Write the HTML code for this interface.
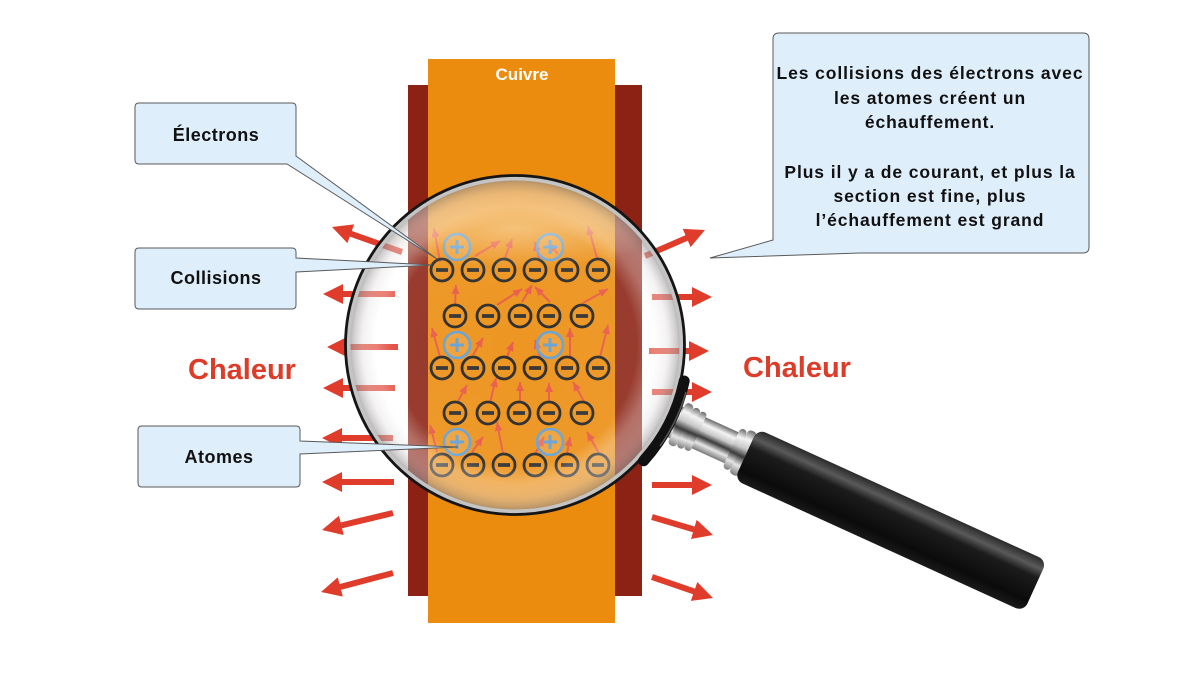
<!DOCTYPE html>
<html><head><meta charset="utf-8"><style>
html,body{margin:0;padding:0;background:#fff;}
svg{display:block;}
text{font-family:"Liberation Sans",Arial,sans-serif;}
</style></head><body>
<svg width="1200" height="675" viewBox="0 0 1200 675" xmlns="http://www.w3.org/2000/svg">
<defs>
  <marker id="bh" markerWidth="20" markerHeight="20" viewBox="0 -10 20 20" refX="10" refY="0" orient="auto" markerUnits="userSpaceOnUse">
    <path d="M0,-10 L20,0 L0,10z" fill="#e03c2c"/>
  </marker>
  <marker id="sh" markerWidth="9" markerHeight="8" viewBox="0 -4 9 8" refX="9" refY="0" orient="auto" markerUnits="userSpaceOnUse">
    <path d="M0,-4 L9,0 L0,4z" fill="#e8503c"/>
  </marker>
  <radialGradient id="lensG" cx="515" cy="345" r="169" gradientUnits="userSpaceOnUse">
    <stop offset="0" stop-color="#fff0d8" stop-opacity="0.1"/>
    <stop offset="0.72" stop-color="#ffffff" stop-opacity="0.12"/>
    <stop offset="0.82" stop-color="#ffffff" stop-opacity="0.35"/>
    <stop offset="0.9" stop-color="#e6e2e2" stop-opacity="0.45"/>
    <stop offset="0.96" stop-color="#aaa6a6" stop-opacity="0.6"/>
    <stop offset="1" stop-color="#6e6c6c" stop-opacity="0.8"/>
  </radialGradient>
  <radialGradient id="hiG" cx="0.5" cy="0.5" r="0.5">
    <stop offset="0" stop-color="#fff3dc" stop-opacity="0.45"/>
    <stop offset="1" stop-color="#fff3dc" stop-opacity="0"/>
  </radialGradient>
  <clipPath id="lensClip"><circle cx="515" cy="345" r="168"/></clipPath>
  <linearGradient id="chromeG" x1="0" y1="0" x2="0" y2="1">
    <stop offset="0" stop-color="#6a6a6a"/>
    <stop offset="0.2" stop-color="#f4f4f4"/>
    <stop offset="0.4" stop-color="#c8c8c8"/>
    <stop offset="0.58" stop-color="#3a3a3a"/>
    <stop offset="0.78" stop-color="#e6e6e6"/>
    <stop offset="1" stop-color="#7a7a7a"/>
  </linearGradient>
  <linearGradient id="blackG" x1="0" y1="0" x2="0" y2="1">
    <stop offset="0" stop-color="#2a2a2a"/>
    <stop offset="0.18" stop-color="#5a5a5a"/>
    <stop offset="0.35" stop-color="#1c1c1c"/>
    <stop offset="0.8" stop-color="#0b0b0b"/>
    <stop offset="1" stop-color="#1a1a1a"/>
  </linearGradient>
</defs>

<!-- copper -->
<rect x="408" y="85" width="234" height="511" fill="#8b2213"/>
<rect x="428" y="59" width="187" height="564" fill="#eb8c0e"/>
<text x="522" y="80" text-anchor="middle" font-size="17" font-weight="bold" fill="#fff">Cuivre</text>

<!-- big arrows -->
<g stroke="#e03c2c" stroke-width="6" fill="none" marker-end="url(#bh)">
  <line x1="402" y1="252" x2="341.4" y2="230.4"/>
  <line x1="395" y1="294" x2="333" y2="294"/>
  <line x1="398" y1="347" x2="337" y2="347"/>
  <line x1="395" y1="388" x2="333" y2="388"/>
  <line x1="393" y1="438" x2="332" y2="438"/>
  <line x1="394" y1="482" x2="332" y2="482"/>
  <line x1="393" y1="513" x2="331.7" y2="527.7"/>
  <line x1="393" y1="573" x2="330.7" y2="589.5"/>
  <line x1="645" y1="256" x2="695.8" y2="234"/>
  <line x1="652" y1="297" x2="702" y2="297"/>
  <line x1="649" y1="351" x2="699" y2="351"/>
  <line x1="652" y1="392" x2="702" y2="392"/>
  <line x1="652" y1="485" x2="702" y2="485"/>
  <line x1="652" y1="517" x2="703.4" y2="532.2"/>
  <line x1="652" y1="577" x2="703.5" y2="594.7"/>
</g>

<text x="188" y="379" font-size="29" font-weight="bold" fill="#dc3c28">Chaleur</text>
<text x="743" y="377" font-size="29" font-weight="bold" fill="#dc3c28">Chaleur</text>

<!-- small arrows -->
<g stroke="#e8503c" stroke-width="2" fill="none" marker-end="url(#sh)">
  <line x1="440" y1="262" x2="434" y2="228"/>
  <line x1="475" y1="256" x2="500" y2="241"/>
  <line x1="505" y1="258" x2="512" y2="239"/>
  <line x1="539" y1="259" x2="535" y2="242"/>
  <line x1="558" y1="254" x2="549" y2="243"/>
  <line x1="597" y1="258" x2="588" y2="226"/>
  <line x1="455" y1="305" x2="456" y2="285"/>
  <line x1="497" y1="305" x2="522" y2="289"/>
  <line x1="522" y1="302" x2="532" y2="285"/>
  <line x1="550" y1="302" x2="535" y2="287"/>
  <line x1="583" y1="303" x2="608" y2="289"/>
  <line x1="440" y1="357" x2="432" y2="328"/>
  <line x1="473" y1="355" x2="483" y2="338"/>
  <line x1="507" y1="357" x2="513" y2="342"/>
  <line x1="540" y1="357" x2="535" y2="340"/>
  <line x1="570" y1="357" x2="570" y2="328"/>
  <line x1="600" y1="357" x2="608" y2="325"/>
  <line x1="457" y1="403" x2="467" y2="385"/>
  <line x1="490" y1="403" x2="496" y2="378"/>
  <line x1="520" y1="403" x2="520" y2="382"/>
  <line x1="549" y1="403" x2="549" y2="383"/>
  <line x1="585" y1="403" x2="573" y2="382"/>
  <line x1="437" y1="452" x2="430" y2="425"/>
  <line x1="472" y1="452" x2="483" y2="437"/>
  <line x1="503" y1="454" x2="497" y2="422"/>
  <line x1="535" y1="454" x2="544" y2="437"/>
  <line x1="567" y1="454" x2="570" y2="437"/>
  <line x1="600" y1="455" x2="587" y2="432"/>
</g>

<!-- atoms -->
<g stroke="#5a9bd4" stroke-width="2.6" fill="rgba(255,255,255,0.12)">
  <circle cx="457" cy="247" r="13"/><circle cx="550" cy="247" r="13"/>
  <circle cx="457" cy="345" r="13"/><circle cx="550" cy="345" r="13"/>
  <circle cx="457" cy="442" r="13"/><circle cx="550" cy="442" r="13"/>
</g>
<g stroke="#5a9bd4" stroke-width="3">
  <path d="M450,247h14M457,240v14M543,247h14M550,240v14M450,345h14M457,338v14M543,345h14M550,338v14M450,442h14M457,435v14M543,442h14M550,435v14"/>
</g>

<!-- electrons -->
<g stroke="#1a1a1a" stroke-width="2.8" fill="none">
  <circle cx="442" cy="270" r="11"/><circle cx="473" cy="270" r="11"/><circle cx="504" cy="270" r="11"/><circle cx="535" cy="270" r="11"/><circle cx="567" cy="270" r="11"/><circle cx="598" cy="270" r="11"/>
  <circle cx="455" cy="316" r="11"/><circle cx="488" cy="316" r="11"/><circle cx="520" cy="316" r="11"/><circle cx="549" cy="316" r="11"/><circle cx="582" cy="316" r="11"/>
  <circle cx="442" cy="368" r="11"/><circle cx="473" cy="368" r="11"/><circle cx="504" cy="368" r="11"/><circle cx="535" cy="368" r="11"/><circle cx="567" cy="368" r="11"/><circle cx="598" cy="368" r="11"/>
  <circle cx="455" cy="413" r="11"/><circle cx="488" cy="413" r="11"/><circle cx="519" cy="413" r="11"/><circle cx="549" cy="413" r="11"/><circle cx="582" cy="413" r="11"/>
  <circle cx="442" cy="465" r="11"/><circle cx="473" cy="465" r="11"/><circle cx="504" cy="465" r="11"/><circle cx="535" cy="465" r="11"/><circle cx="567" cy="465" r="11"/><circle cx="598" cy="465" r="11"/>
</g>
<g stroke="#222" stroke-width="3.8">
  <path d="M436,270h12M467,270h12M498,270h12M529,270h12M561,270h12M592,270h12"/>
  <path d="M449,316h12M482,316h12M514,316h12M543,316h12M576,316h12"/>
  <path d="M436,368h12M467,368h12M498,368h12M529,368h12M561,368h12M592,368h12"/>
  <path d="M449,413h12M482,413h12M513,413h12M543,413h12M576,413h12"/>
  <path d="M436,465h12M467,465h12M498,465h12M529,465h12M561,465h12M592,465h12"/>
</g>

<!-- lens glass -->
<circle cx="515" cy="345" r="169" fill="url(#lensG)"/>
<g clip-path="url(#lensClip)">
  <ellipse cx="515" cy="228" rx="150" ry="40" fill="url(#hiG)"/>
</g>
<circle cx="515" cy="345" r="166.5" fill="none" stroke="#c4c4c4" stroke-width="4"/>
<circle cx="515" cy="345" r="169.5" fill="none" stroke="#151515" stroke-width="2.8"/>

<!-- handle -->
<g transform="translate(675,422) rotate(24.5)">
  <rect x="0" y="-17" width="82" height="34" fill="url(#chromeG)"/>
  <rect x="2" y="-23" width="9" height="46" rx="4" fill="url(#chromeG)"/>
  <rect x="11" y="-22" width="8" height="44" rx="4" fill="url(#chromeG)"/>
  <rect x="19" y="-21" width="7" height="42" rx="3" fill="url(#chromeG)"/>
  <rect x="62" y="-22" width="8" height="44" rx="4" fill="url(#chromeG)"/>
  <rect x="70" y="-24" width="10" height="48" rx="4" fill="url(#chromeG)"/>
  <rect x="78" y="-28" width="318" height="56" rx="9" fill="url(#blackG)"/>
</g>
<path d="M684.2,381 A173,173 0 0 1 643.6,460.8" fill="none" stroke="#111" stroke-width="11" stroke-linecap="round"/>
<path d="M686,392 A176,176 0 0 1 660,446" fill="none" stroke="#555" stroke-width="1.5"/>

<!-- callouts -->
<g fill="#dfeefb" stroke="#5a5a5a" stroke-width="1">
  <path d="M139,103 H292 Q296,103 296,107 V156 L437,259 L287,164 H139 Q135,164 135,160 V107 Q135,103 139,103Z"/>
  <path d="M139,248 H292 Q296,248 296,252 V258 L432,265 L296,272 V305 Q296,309 292,309 H139 Q135,309 135,305 V252 Q135,248 139,248Z"/>
  <path d="M142,426 H296 Q300,426 300,430 V441 L458,447 L300,454 V483 Q300,487 296,487 H142 Q138,487 138,483 V430 Q138,426 142,426Z"/>
  <path d="M779,33 H1083 Q1089,33 1089,39 V247 Q1089,253 1083,253 H860 L710,258 L773,240 V39 Q773,33 779,33Z"/>
</g>
<g font-size="18" font-weight="bold" fill="#111" text-anchor="middle" letter-spacing="0.5">
  <text x="216" y="141">Électrons</text>
  <text x="216" y="284">Collisions</text>
  <text x="219" y="463">Atomes</text>
</g>
<g font-size="17.5" font-weight="bold" fill="#111" text-anchor="middle" letter-spacing="0.9">
  <text x="930" y="79">Les collisions des électrons avec</text>
  <text x="930" y="104">les atomes créent un</text>
  <text x="930" y="128">échauffement.</text>
  <text x="930" y="178">Plus il y a de courant, et plus la</text>
  <text x="930" y="202">section est fine, plus</text>
  <text x="930" y="226">l’échauffement est grand</text>
</g>
</svg>
</body></html>
